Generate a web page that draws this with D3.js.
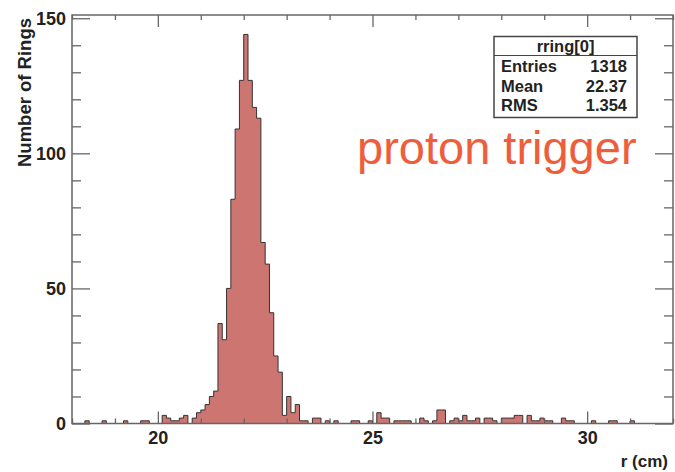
<!DOCTYPE html>
<html>
<head>
<meta charset="utf-8">
<script src="https://cdn.jsdelivr.net/npm/d3@7"></script>
<style>
  body { margin: 0; background: #fff; }
  svg { display: block; }
</style>
</head>
<body>
<script>
// Ring radius histogram: lower edge (cm) and number of rings for every non-empty 0.1 cm bin
const binLow = [
  18.3, 18.7, 19.2, 19.6, 19.7,
  20.1, 20.2, 20.3, 20.4, 20.5, 20.6, 20.8, 20.9,
  21.0, 21.1, 21.2, 21.3, 21.4, 21.5, 21.6, 21.7, 21.8, 21.9,
  22.0, 22.1, 22.2, 22.3, 22.4, 22.5, 22.6, 22.7, 22.8, 22.9,
  23.0, 23.1, 23.2, 23.3, 23.4, 23.6, 23.7, 23.9,
  24.1, 24.5, 24.6, 24.9,
  25.1, 25.2, 25.3, 25.5, 25.6, 25.7, 25.8,
  26.1, 26.2, 26.4, 26.5, 26.6, 26.8, 26.9,
  27.0, 27.1, 27.2, 27.3, 27.4, 27.6, 27.7, 27.8,
  28.0, 28.1, 28.2, 28.3, 28.4, 28.6, 28.7, 28.8, 28.9,
  29.0, 29.1, 29.4, 29.5, 29.6,
  30.1, 30.5, 30.6, 31.0
];
const counts = [
  1, 1, 1, 1, 1,
  3, 2, 1, 1, 2, 3, 2, 4,
  5, 7, 10, 12, 37, 31, 50, 83, 109, 127,
  144, 127, 117, 113, 67, 59, 41, 25, 19, 3,
  10, 4, 7, 1, 1, 2, 2, 1,
  1, 1, 1, 1,
  4, 2, 2, 1, 1, 1, 1,
  2, 1, 1, 5, 5, 1, 2,
  1, 3, 1, 1, 2, 2, 2, 1,
  2, 2, 2, 3, 3, 3, 1, 1, 2,
  1, 1, 2, 1, 1,
  1, 1, 1, 1
];
const rRange = [18, 32];
const binWidth = 0.1;
const yMax = 151.2;

const xMajorTicks = [20, 25, 30];
const xMinorTicks = [18, 19, 21, 22, 23, 24, 26, 27, 28, 29, 31, 32];
const yMajorTicks = [0, 50, 100, 150];
const yMinorTicks = [10, 20, 30, 40, 60, 70, 80, 90, 110, 120, 130, 140];

const histName = "rring[0]";
const statLabels = ["Entries", "Mean", "RMS"];
const statValues = ["1318", "22.37", "1.354"];

const xTitle = "r (cm)";
const yTitle = "Number of Rings";
const caption = "proton trigger";

const W = 675, H = 472;
const frame = { left: 72, right: 673, top: 15, bottom: 423.5 };
const font = "'Liberation Sans', Arial, Helvetica, sans-serif";
const axisColor = "#666";
const textColor = "#222";

const svg = d3.select("body").append("svg")
  .attr("width", W).attr("height", H);

const x = d3.scaleLinear().domain(rRange).range([frame.left, frame.right]);
const y = d3.scaleLinear().domain([0, yMax]).range([frame.bottom, frame.top]);

// Full binning, empty bins included, so the outline runs the whole range
const nBins = Math.round((rRange[1] - rRange[0]) / binWidth);
const full = d3.range(nBins).map(i => ({ lo: rRange[0] + i * binWidth, n: 0 }));
binLow.forEach((lo, k) => {
  const i = Math.round((lo - rRange[0]) / binWidth);
  full[i].n = counts[k];
});
const pts = full.map(b => [b.lo, b.n]).concat([[rRange[1], full[nBins - 1].n]]);

const area = d3.area()
  .x(d => x(d[0])).y0(y(0)).y1(d => y(d[1]))
  .curve(d3.curveStepAfter);
const line = d3.line()
  .x(d => x(d[0])).y(d => y(d[1]))
  .curve(d3.curveStepAfter);

svg.append("path").datum(pts)
  .attr("d", area)
  .attr("fill", "#cd7571");
svg.append("path").datum(pts)
  .attr("d", line)
  .attr("fill", "none")
  .attr("stroke", "#333")
  .attr("stroke-width", 1);

// Frame and ticks on all four sides, pointing inward
function styleAxis(g) {
  g.select(".domain").remove();
  g.selectAll(".tick line").attr("stroke", axisColor).attr("stroke-width", 1.3);
  g.selectAll("text")
    .attr("fill", textColor)
    .attr("font-family", font)
    .attr("font-weight", "bold")
    .attr("font-size", 18);
}

svg.append("g").attr("transform", `translate(0,${frame.bottom})`)
  .call(d3.axisBottom(x).tickValues(xMajorTicks).tickSize(-12).tickPadding(8).tickFormat(d3.format("d")))
  .call(styleAxis);
svg.append("g").attr("transform", `translate(0,${frame.bottom})`)
  .call(d3.axisBottom(x).tickValues(xMinorTicks).tickSize(-5).tickFormat(""))
  .call(styleAxis);
svg.append("g").attr("transform", `translate(0,${frame.top})`)
  .call(d3.axisTop(x).tickValues(xMajorTicks).tickSize(-12).tickFormat(""))
  .call(styleAxis);
svg.append("g").attr("transform", `translate(0,${frame.top})`)
  .call(d3.axisTop(x).tickValues(xMinorTicks).tickSize(-5).tickFormat(""))
  .call(styleAxis);

svg.append("g").attr("transform", `translate(${frame.left},0)`)
  .call(d3.axisLeft(y).tickValues(yMajorTicks).tickSize(-18).tickPadding(6).tickFormat(d3.format("d")))
  .call(styleAxis);
svg.append("g").attr("transform", `translate(${frame.left},0)`)
  .call(d3.axisLeft(y).tickValues(yMinorTicks).tickSize(-9).tickFormat(""))
  .call(styleAxis);
svg.append("g").attr("transform", `translate(${frame.right},0)`)
  .call(d3.axisRight(y).tickValues(yMajorTicks).tickSize(-18).tickFormat(""))
  .call(styleAxis);
svg.append("g").attr("transform", `translate(${frame.right},0)`)
  .call(d3.axisRight(y).tickValues(yMinorTicks).tickSize(-9).tickFormat(""))
  .call(styleAxis);

svg.append("rect")
  .attr("x", frame.left).attr("y", frame.top)
  .attr("width", frame.right - frame.left)
  .attr("height", frame.bottom - frame.top)
  .attr("fill", "none")
  .attr("stroke", axisColor)
  .attr("stroke-width", 1.5);

// Axis titles
svg.append("text")
  .attr("x", 668).attr("y", 467)
  .attr("text-anchor", "end")
  .attr("font-family", font).attr("font-weight", "bold").attr("font-size", 17)
  .attr("fill", textColor)
  .text(xTitle);

svg.append("text")
  .attr("transform", `translate(31,${frame.top + 3}) rotate(-90)`)
  .attr("text-anchor", "end")
  .attr("font-family", font).attr("font-weight", "bold").attr("font-size", 18.5)
  .attr("fill", textColor)
  .text(yTitle);

// Statistics box
const box = { x: 494, y: 36.5, w: 143, h: 81, split: 55.5 };
const stats = svg.append("g");
stats.append("rect")
  .attr("x", box.x).attr("y", box.y).attr("width", box.w).attr("height", box.h)
  .attr("fill", "#fff").attr("stroke", "#444").attr("stroke-width", 1.5);
stats.append("line")
  .attr("x1", box.x).attr("x2", box.x + box.w)
  .attr("y1", box.split).attr("y2", box.split)
  .attr("stroke", "#444").attr("stroke-width", 1.2);
stats.append("text")
  .attr("x", box.x + box.w / 2).attr("y", 51.5)
  .attr("text-anchor", "middle")
  .attr("font-family", font).attr("font-weight", "bold").attr("font-size", 16.5)
  .attr("fill", textColor)
  .text(histName);
const rowY = d3.scaleLinear().domain([0, 2]).range([72, 111]);
statLabels.forEach((lab, i) => {
  stats.append("text")
    .attr("x", box.x + 7).attr("y", rowY(i))
    .attr("font-family", font).attr("font-weight", "bold").attr("font-size", 16.5)
    .attr("fill", textColor)
    .text(lab);
  stats.append("text")
    .attr("x", box.x + box.w - 10).attr("y", rowY(i))
    .attr("text-anchor", "end")
    .attr("font-family", font).attr("font-weight", "bold").attr("font-size", 16.5)
    .attr("fill", textColor)
    .text(statValues[i]);
});

// Caption
svg.append("text")
  .attr("x", 357).attr("y", 164)
  .attr("font-family", font).attr("font-size", 47)
  .attr("fill", "#ee5e3c")
  .text(caption);
</script>
</body>
</html>
